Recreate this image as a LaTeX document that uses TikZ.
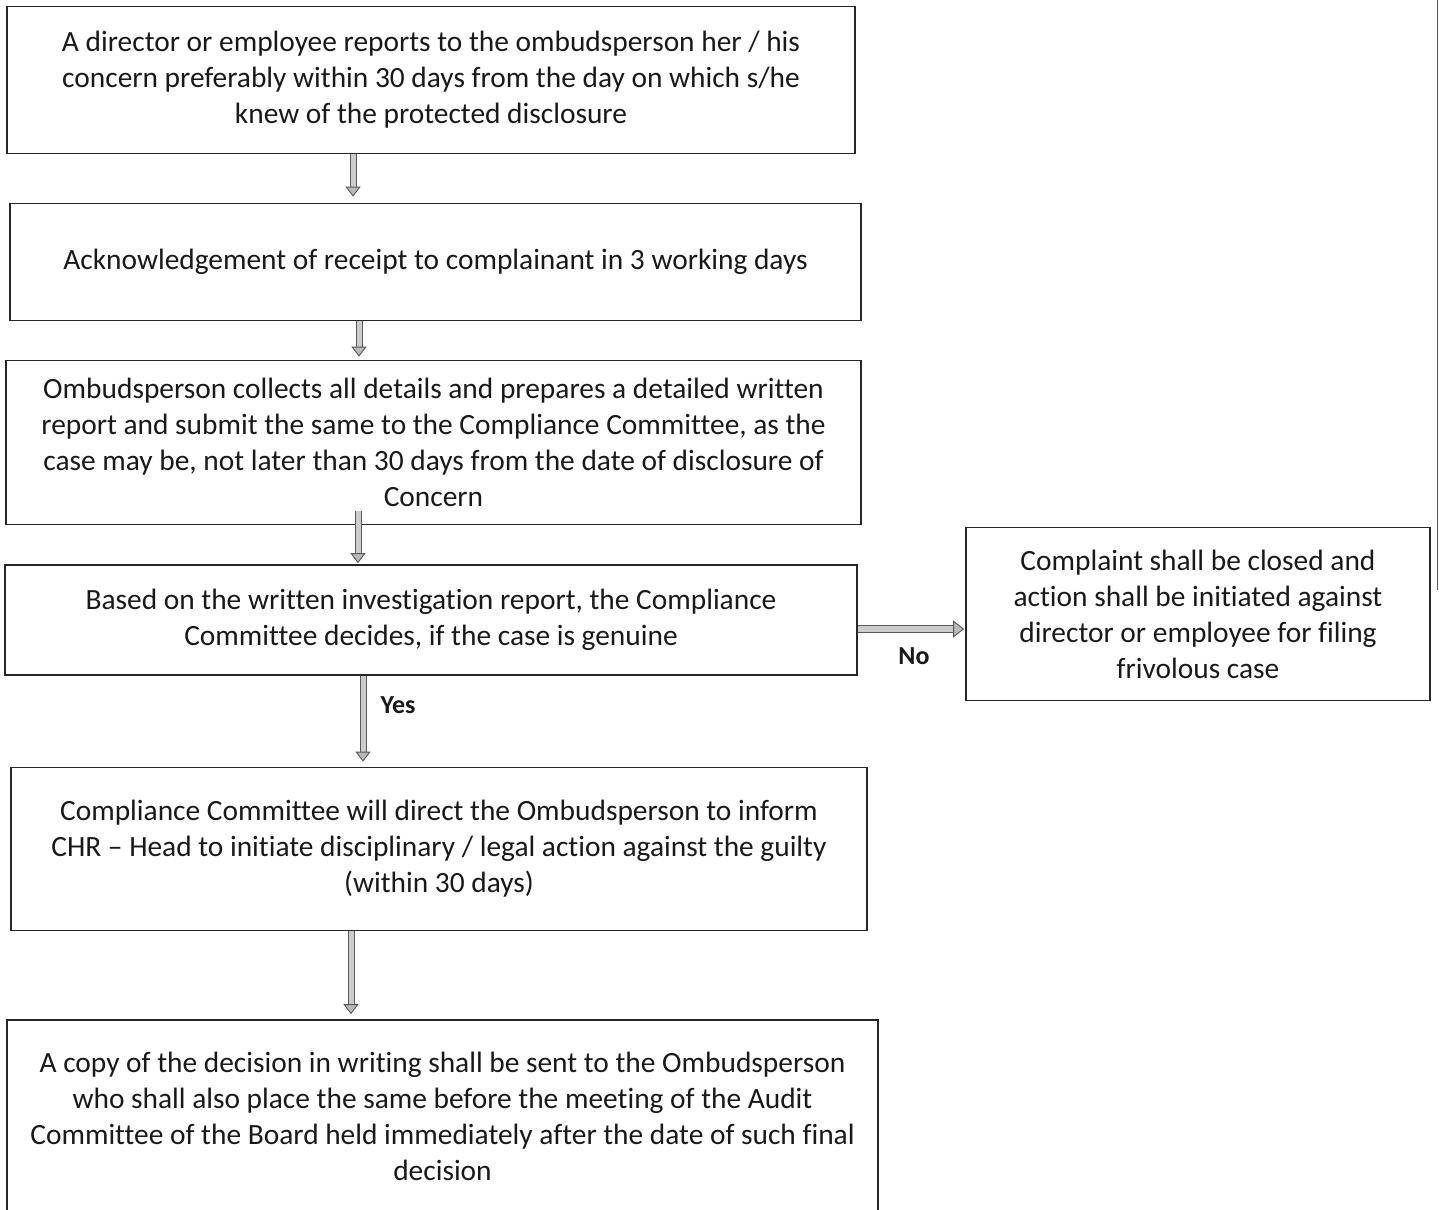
\documentclass[tikz,border=0pt]{standalone}
\usepackage{fontspec}
\setmainfont{Carlito}[Ligatures=NoCommon]
\usetikzlibrary{arrows.meta}
\begin{document}
\begin{tikzpicture}[x=1pt,y=-1pt,
  box/.style={draw=black!85, line width=1.6pt, align=center, inner sep=0pt,
    font=\fontsize{29.4}{36}\selectfont, text=black!90},
  lbl/.style={font=\fontsize{26}{30}\selectfont\bfseries, text=black!90, inner sep=0pt},
  flow/.style={draw=black!65, line width=1pt, double=gray!40, double distance=5pt,
    -{Triangle[width=15pt,length=10pt,fill=gray!55,color=black!65,line width=0.9pt]}},
  wflow/.style={flow, double distance=6pt,
    -{Triangle[width=17pt,length=11pt,fill=gray!55,color=black!65,line width=0.9pt]}}]
\useasboundingbox (0,0) rectangle (1439,1209);
\node[box, minimum width=848pt, minimum height=147pt] (b1) at (431,80)
  {A director or employee reports to the ombudsperson her / his\\
   concern preferably within 30 days from the day on which s/he\\
   knew of the protected disclosure};
\node[box, minimum width=851pt, minimum height=117pt] (b2) at (435.5,262)
  {Acknowledgement of receipt to complainant in 3 working days};
\node[box, minimum width=855pt, minimum height=164pt] (b3) at (433.5,442.5)
  {Ombudsperson collects all details and prepares a detailed written\\
   report and submit the same to the Compliance Committee, as the\\
   case may be, not later than 30 days from the date of disclosure of\\
   Concern};
\node[box, minimum width=852pt, minimum height=110pt] (b4) at (431,620)
  {Based on the written investigation report, the Compliance\\
   Committee decides, if the case is genuine};
\node[box, minimum width=464pt, minimum height=173pt] (b5) at (1198,614)
  {Complaint shall be closed and\\
   action shall be initiated against\\
   director or employee for filing\\
   frivolous case};
\node[box, minimum width=856pt, minimum height=163pt] (b6) at (439,849)
  {Compliance Committee will direct the Ombudsperson to inform\\
   CHR -- Head to initiate disciplinary / legal action against the guilty\\
   (within 30 days)};
\node[box, minimum width=871pt, minimum height=192pt] (b7) at (442.5,1116)
  {A copy of the decision in writing shall be sent to the Ombudsperson\\
   who shall also place the same before the meeting of the Audit\\
   Committee of the Board held immediately after the date of such final\\
   decision};
\draw[flow] ([xshift=-78pt]b1.south) -- ([xshift=-82.5pt,yshift=6pt]b2.north);
\draw[flow] ([xshift=-76.5pt]b2.south) -- ([xshift=-74.5pt,yshift=3pt]b3.north);
\draw[flow] ([xshift=-75.5pt,yshift=14pt]b3.south) -- ([xshift=-73pt,yshift=1pt]b4.north);
\draw[flow] ([xshift=-68pt]b4.south) -- ([xshift=-76pt,yshift=5pt]b6.north);
\draw[flow] ([xshift=-88pt]b6.south) -- ([xshift=-91.5pt,yshift=5pt]b7.north);
\draw[wflow] ([yshift=-9pt]b4.east) -- ([xshift=-1pt,yshift=-15pt]b5.west);
\node[lbl] (no) at (914,656) {No};
\node[lbl] (yes) at (398,705) {Yes};
\coordinate (e1) at (1437.5,0);
\coordinate (e2) at (1437.5,590);
\draw[black!65, line width=1.2pt] (e1) -- (e2);
\end{tikzpicture}
\end{document}
